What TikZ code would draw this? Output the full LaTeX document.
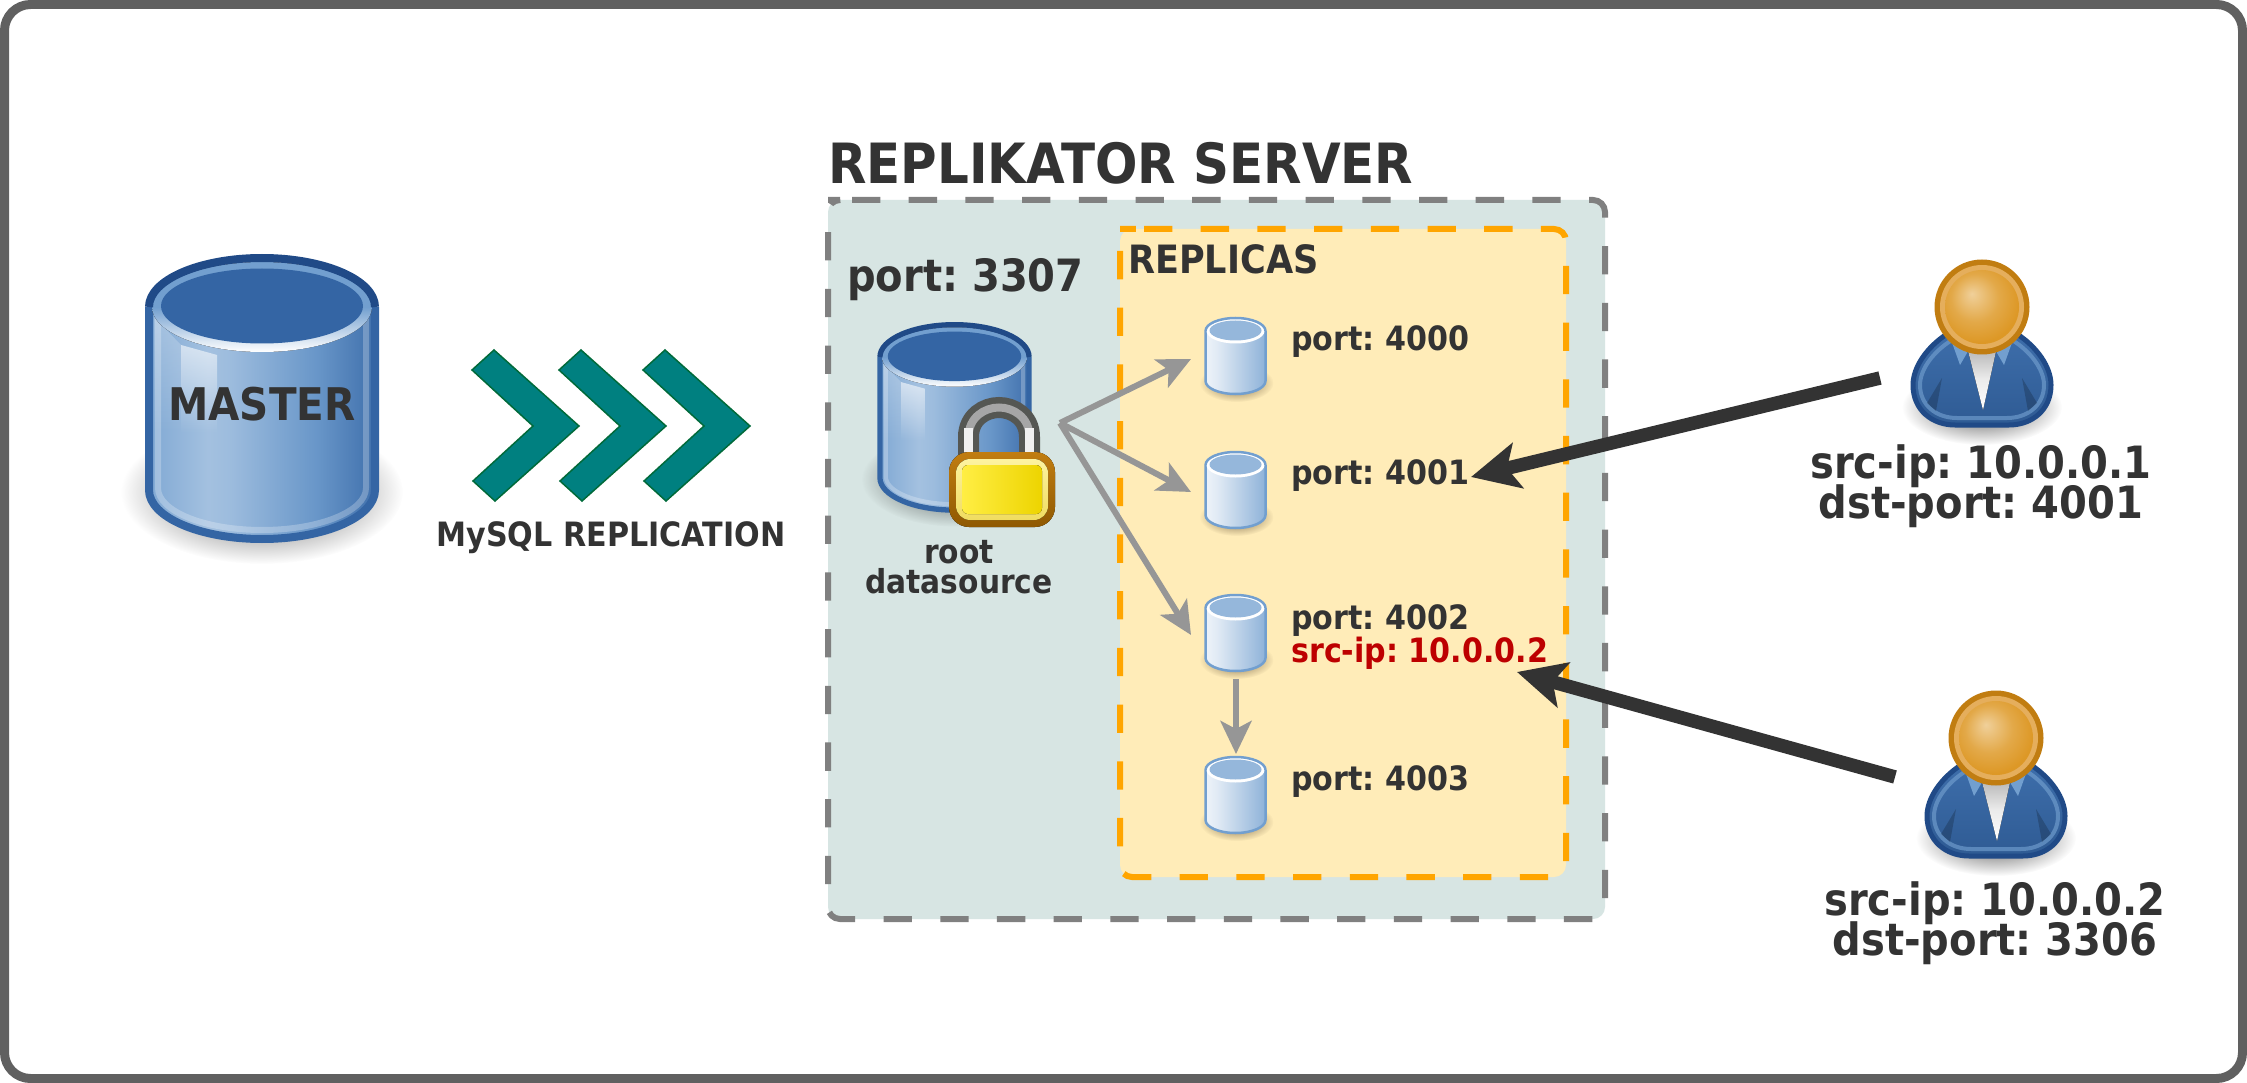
\documentclass[tikz,border=0pt]{standalone}
\usepackage{fontspec}
\setmainfont[FakeStretch=0.9]{DejaVu Sans}
\usetikzlibrary{arrows.meta,fadings}
\definecolor{darktext}{HTML}{333333}
\definecolor{framegray}{HTML}{606060}
\definecolor{servergray}{HTML}{808080}
\definecolor{serverfill}{HTML}{D7E5E3}
\definecolor{replicafill}{HTML}{FFECB8}
\definecolor{replicaline}{HTML}{FFA500}
\definecolor{chevronfill}{HTML}{008080}
\definecolor{chevronline}{HTML}{006A3A}
\definecolor{fangray}{HTML}{969696}
\definecolor{iprred}{HTML}{BD0000}
\definecolor{dbdark}{HTML}{204A87}
\definecolor{dbmid}{HTML}{3465A4}
\definecolor{dblight}{HTML}{729FCF}
\definecolor{headrim}{HTML}{C17D11}
\definecolor{headring}{HTML}{E5AE5C}
\definecolor{headcore}{HTML}{DD9826}
\definecolor{headglow}{HTML}{F0D09A}
\definecolor{lockbrown}{HTML}{8F5902}
\definecolor{locklight}{HTML}{FDF3A0}
\definecolor{lockring}{HTML}{F0DC60}
\definecolor{lockleft}{HTML}{FFEE44}
\definecolor{lockright}{HTML}{EDD400}
\definecolor{shackledark}{HTML}{555753}
\pgfdeclarehorizontalshading{cylbody}{100bp}{color(0bp)=(dbmid); color(25bp)=(dblight!90!white); color(38bp)=(dblight!65!white); color(43bp)=(dblight!70!white); color(62bp)=(dblight!85!dbmid); color(75bp)=(dbmid!80!dblight); color(100bp)=(dbmid)}
\pgfdeclarehorizontalshading{replicabody}{100bp}{color(0bp)=(white); color(25bp)=(dblight!12!white); color(35bp)=(dblight!22!white); color(75bp)=(dblight!80!white); color(100bp)=(dblight)}
\pgfdeclareradialshading{headshade}{\pgfpoint{-7bp}{9bp}}{color(0bp)=(headglow); color(16bp)=(headcore!70!headglow); color(28bp)=(headcore); color(50bp)=(headcore)}
\tikzfading[name=softblob, inner color=transparent!30, outer color=transparent!100]
\newcommand{\fs}[1]{\fontsize{#1}{#1}\selectfont\frenchspacing}
\tikzset{
  lbl/.style={inner sep=0pt, text=darktext, font=\bfseries\fs{#1}},
  lblw/.style={lbl=#1, anchor=base west},
  lblc/.style={lbl=#1, anchor=base, align=center},
  fanarrow/.style={-{Stealth[length=33pt,width=31pt,inset=8pt]}, line width=6pt, draw=fangray},
  userarrow/.style={-{Stealth[length=48pt,width=46pt,inset=11pt]}, line width=13.5pt, draw=darktext},
  pics/dbcyl/.style={code={
    \fill[black, path fading=softblob] (0,185) ellipse [x radius=141, y radius=72];
    \path[shading=cylbody] (-113,0) -- (-113,183) arc [start angle=180, end angle=0, x radius=113, y radius=49] -- (113,0) -- cycle;
    \fill[white, opacity=.6, path fading=south] (-81,38) -- (-45,48) -- (-45,126) -- (-81,126) -- cycle;
    \fill[white, opacity=.25, path fading=south] (-108,10) -- (-81,38) -- (-81,126) -- (-108,126) -- cycle;
    \draw[white, opacity=.25, line width=#1*6pt] (-104,0) -- (-104,181) arc [start angle=180, end angle=0, x radius=104, y radius=42] -- (104,0);
    \draw[dbmid, line width=#1*8pt] (-113,0) -- (-113,183) arc [start angle=180, end angle=0, x radius=113, y radius=49] -- (113,0);
    \fill[top color=dblight, bottom color=white, middle color=dblight] (0,0) ellipse [x radius=110, y radius=45];
    \draw[dbdark, line width=#1*8pt] (-113,0) arc [start angle=180, end angle=360, x radius=113, y radius=49];
    \fill[dbmid] (0,-1) ellipse [x radius=101, y radius=37.5];
  }},
  pics/replicadb/.style={code={
    \fill[black!70!brown, path fading=softblob] (1,52) ellipse [x radius=37, y radius=19];
    \path[shading=replicabody] (-30,0) -- (-30,50) arc [start angle=180, end angle=0, x radius=30, y radius=13] -- (30,0) -- cycle;
    \draw[dblight, line width=2.5pt] (-30,0) -- (-30,50) arc [start angle=180, end angle=0, x radius=30, y radius=13] -- (30,0);
    \fill[white] (0,0) ellipse [x radius=29, y radius=12.5];
    \draw[dblight, line width=2.5pt] (-30,0) arc [start angle=180, end angle=360, x radius=30, y radius=13];
    \fill[dblight!75!white] (0,-0.5) ellipse [x radius=26, y radius=10];
  }},
  pics/person/.style={code={
    \fill[black, path fading=softblob] (0,100) ellipse [x radius=80, y radius=38];
    \draw[dbdark, line width=5pt, top color=dbmid!85!dblight, bottom color=dbmid!90!black]
      (-35,27) .. controls (-55,40) and (-69,60) .. (-69,78) .. controls (-69,103) and (-50,118) .. (-27,118) -- (27,118)
      .. controls (50,118) and (69,103) .. (69,78) .. controls (69,60) and (55,40) .. (35,27) -- cycle;
    \draw[dblight, opacity=.65, line width=4pt]
      (-30,33) .. controls (-48,44) and (-62,62) .. (-62,78) .. controls (-62,98) and (-46,111) .. (-25,111) -- (25,111)
      .. controls (46,111) and (62,98) .. (62,78) .. controls (62,62) and (48,44) .. (30,33);
    \fill[black, opacity=.2] (-40,71) -- (-55,96) -- (-46,104) -- cycle;
    \fill[black, opacity=.2] (40,71) -- (55,96) -- (46,104) -- cycle;
    \fill[dblight] (-32,30) -- (-22,58) -- (-15,46) -- (-15,30) -- cycle;
    \fill[dblight] (32,30) -- (22,58) -- (15,46) -- (15,30) -- cycle;
    \fill[top color=black!30, bottom color=white, middle color=black!8] (-15,40) -- (1,103) -- (15,40) -- cycle;
    \fill[headrim] (0,0) circle [radius=47.5];
    \fill[headring] (0,0) circle [radius=42];
    \path[shading=headshade] (0,0) circle [radius=37];
  }},
  pics/padlock/.style={code={
    \draw[shackledark, line width=21pt] (968.5,456) -- (968.5,437) .. controls (968.5,417) and (985,407.5) .. (999,407.5) .. controls (1013,407.5) and (1029.5,417) .. (1029.5,437) -- (1029.5,456);
    \draw[black!35, line width=8pt] (968.5,437) .. controls (968.5,417) and (985,407.5) .. (999,407.5) .. controls (1013,407.5) and (1029.5,417) .. (1029.5,437);
    \draw[black!6, line width=9pt] (968.5,456) -- (968.5,428);
    \draw[black!6, line width=9pt] (1029.5,456) -- (1029.5,428);
    \fill[rounded corners=20pt, top color=headrim, bottom color=lockbrown] (949,452) rectangle (1055,527);
    \fill[rounded corners=14pt, top color=locklight, bottom color=lockring] (956,459) rectangle (1048,520);
    \fill[rounded corners=6pt, left color=lockleft, right color=lockright] (962,465) rectangle (1042,514);
  }}
}
\begin{document}
\begin{tikzpicture}[x=1pt, y=-1pt]
	\useasboundingbox (0,0) rectangle (2247,1083);
	\fill[white] (0,0) rectangle (2247,1083);
	\draw[line width=9pt, framegray, rounded corners=26pt] (4.5,4.5) rectangle (2242.5,1078.5);
	% server and replica boxes
	\draw[fill=serverfill, draw=servergray, line width=6pt, dash pattern=on 28.3pt off 28.4pt, rounded corners=12pt]
		(840,200) -- (1605,200) -- (1605,919) -- (828,919) -- (828,200) -- cycle;
	\draw[fill=replicafill, draw=replicaline, line width=6pt, dash pattern=on 28.3pt off 28.4pt, rounded corners=12pt]
		(1132,229) -- (1566,229) -- (1566,877) -- (1120,877) -- (1120,229) -- cycle;
	% databases
	\pic (masterdb) [scale=1] at (262,307) {dbcyl=1};
	\pic (rootdb) [scale=.66] at (954.5,357) {dbcyl=.66};
	\pic (lockdb) at (0,0) {padlock};
	\pic (replica0) at (1235.5,331) {replicadb};
	\pic (replica1) at (1235.5,465) {replicadb};
	\pic (replica2) at (1235.5,608) {replicadb};
	\pic (replica3) at (1235.5,770) {replicadb};
	% chevrons
	\foreach \dx in {0,87,171}
		\draw[fill=chevronfill, draw=chevronline, line width=1.5pt, xshift=\dx pt]
			(494,350) -- (579,426) -- (495,501) -- (473,481) -- (533,426) -- (472,370) -- cycle;
	% people
	\pic (user1) at (1982,307) {person};
	\pic (user2) at (1996,738) {person};
	% arrows
	\coordinate (fan) at (1060,423);
	\coordinate (fantip0) at (1191,359);
	\coordinate (fantip1) at (1191,492);
	\coordinate (fantip2) at (1191,635);
	\coordinate (down2) at (1236,679);
	\coordinate (down3) at (1236,754);
	\coordinate (user1out) at (1880,378);
	\coordinate (user2out) at (1895,777);
	\coordinate (port1in) at (1471,477);
	\coordinate (ip2in) at (1517,672);
	\draw[fanarrow] (fan) -- (fantip0);
	\draw[fanarrow] (fan) -- (fantip1);
	\draw[fanarrow] (fan) -- (fantip2);
	\draw[fanarrow] (down2) -- (down3);
	\draw[userarrow] (user1out) -- (port1in);
	\draw[userarrow] (user2out) -- (ip2in);
	% labels
	\node[lblw=55.5] (servertitle) at (828,184) {REPLIKATOR SERVER};
	\node[lblc=45] (mastertext) at (262,420) {MASTER};
	\node[lblc=33.5] (repltext) at (611,546) {MySQL REPLICATION};
	\node[lblw=44.5] (rootport) at (847,292) {port: 3307};
	\node[lblw=39] (replicastitle) at (1128,274) {REPLICAS};
	\node[lblc=33] (rootname) at (959,593) {root\\[-3pt]datasource};
	\node[lblw=33.5] (port0) at (1291,351) {port: 4000};
	\node[lblw=33.5] (port1) at (1291,484) {port: 4001};
	\node[lblw=33.5, align=left] (port2) at (1291,662) {port: 4002\\[-.5pt]\textcolor{iprred}{src-ip: 10.0.0.2}};
	\node[lblw=33.5] (port3) at (1291,790) {port: 4003};
	\node[lblc=44.5] (client1) at (1981,518) {src-ip: 10.0.0.1\\[-4.5pt]dst-port: 4001};
	\node[lblc=44.5] (client2) at (1995,955) {src-ip: 10.0.0.2\\[-4.5pt]dst-port: 3306};
\end{tikzpicture}
\end{document}
